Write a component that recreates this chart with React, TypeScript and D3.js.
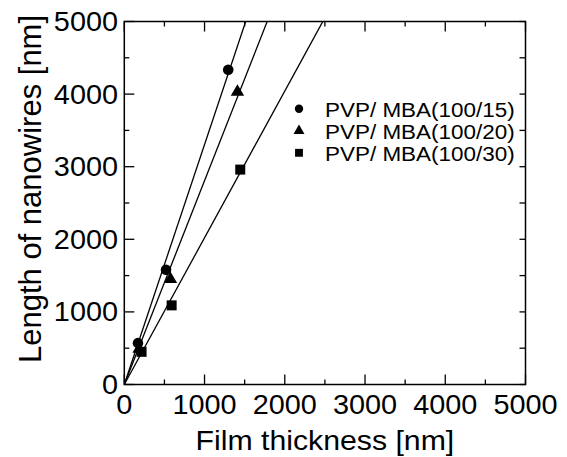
import React from "react";
import * as d3 from "d3";

const seriesNames = ["PVP/ MBA(100/15)", "PVP/ MBA(100/20)", "PVP/ MBA(100/30)"];
const seriesSymbols = ["circle", "triangle", "square"];
const thicknessS15 = [170, 520, 1295];
const lengthS15 = [570, 1580, 4335];
const thicknessS20 = [185, 575, 1410];
const lengthS20 = [490, 1450, 4030];
const thicknessS30 = [215, 590, 1445];
const lengthS30 = [450, 1090, 2960];
const majorTicks = [0, 1000, 2000, 3000, 4000, 5000];
const minorTicks = [500, 1500, 2500, 3500, 4500];

const W = 567, H = 457;
const L = 124.3, R = 525.5, T = 21.5, B = 384.5;
const FONT = "'Liberation Sans', Arial, sans-serif";

export default function App() {
  const x = d3.scaleLinear().domain([0, 5000]).range([L, R]);
  const y = d3.scaleLinear().domain([0, 5000]).range([B, T]);
  const series = [
    { xs: thicknessS15, ys: lengthS15 },
    { xs: thicknessS20, ys: lengthS20 },
    { xs: thicknessS30, ys: lengthS30 },
  ];
  const symType: Record<string, d3.SymbolType> = {
    circle: d3.symbolCircle,
    triangle: d3.symbolTriangle,
    square: d3.symbolSquare,
  };
  const symSize: Record<string, number> = { circle: 88, triangle: 78, square: 100 };
  const legSize: Record<string, number> = { circle: 55, triangle: 52, square: 62 };
  const line = d3.line<[number, number]>().x((d) => x(d[0])).y((d) => y(d[1]));

  return (
    <svg width={W} height={H} style={{ position: "absolute", left: 0, top: 0, background: "#fff" }}>
      <defs>
        <clipPath id="plot">
          <rect x={L} y={T} width={R - L} height={B - T} />
        </clipPath>
      </defs>
      <rect x={0} y={0} width={W} height={H} fill="#fff" />
      <g clipPath="url(#plot)">
        {series.map((s, i) => {
          const sxy = d3.sum(s.xs, (v, k) => v * s.ys[k]);
          const sxx = d3.sum(s.xs, (v) => v * v);
          const k = sxy / sxx;
          return (
            <path key={i} d={line([[0, 0], [5000, 5000 * k]]) || ""} stroke="#000" strokeWidth={1.3} fill="none" />
          );
        })}
      </g>
      {series.map((s, i) =>
        s.xs.map((v, j) => (
          <path
            key={`${i}-${j}`}
            transform={`translate(${x(v)},${y(s.ys[j])})`}
            d={d3.symbol(symType[seriesSymbols[i]], symSize[seriesSymbols[i]])() || ""}
            fill="#000"
          />
        ))
      )}
      <rect x={L} y={T} width={R - L} height={B - T} fill="none" stroke="#000" strokeWidth={1.5} />
      {majorTicks.map((t) => (
        <g key={`M${t}`} stroke="#000" strokeWidth={1.3}>
          <line x1={x(t)} x2={x(t)} y1={B} y2={B - 10} />
          <line x1={x(t)} x2={x(t)} y1={T} y2={T + 10} />
          <line x1={L} x2={L + 10} y1={y(t)} y2={y(t)} />
          <line x1={R} x2={R - 6} y1={y(t)} y2={y(t)} />
        </g>
      ))}
      {minorTicks.map((t) => (
        <g key={`m${t}`} stroke="#000" strokeWidth={1.3}>
          <line x1={x(t)} x2={x(t)} y1={B} y2={B - 5} />
          <line x1={x(t)} x2={x(t)} y1={T} y2={T + 5} />
          <line x1={L} x2={L + 5} y1={y(t)} y2={y(t)} />
          <line x1={R} x2={R - 6} y1={y(t)} y2={y(t)} />
        </g>
      ))}
      {majorTicks.map((t) => (
        <text
          key={`xl${t}`}
          transform={`translate(${x(t)},${414}) scale(1.03,1)`}
          textAnchor="middle"
          fontFamily={FONT}
          fontSize={28}
          fill="#000"
        >
          {t}
        </text>
      ))}
      {majorTicks.map((t) => (
        <text
          key={`yl${t}`}
          transform={`translate(${118},${y(t) + 9.5}) scale(1.03,1)`}
          textAnchor="end"
          fontFamily={FONT}
          fontSize={28}
          fill="#000"
        >
          {t}
        </text>
      ))}
      <text
        transform={`translate(${(L + R) / 2},${449.5}) scale(1.1,1)`}
        textAnchor="middle"
        fontFamily={FONT}
        fontSize={27.5}
        fill="#000"
      >
        Film thickness [nm]
      </text>
      <text
        transform={`translate(${41},${189}) rotate(-90)`}
        textAnchor="middle"
        fontFamily={FONT}
        fontSize={31}
        fill="#000"
      >
        Length of nanowires [nm]
      </text>
      {seriesNames.map((n, i) => {
        const ly = 108.8 + i * 22;
        return (
          <g key={n}>
            <path
              transform={`translate(299,${ly})`}
              d={d3.symbol(symType[seriesSymbols[i]], legSize[seriesSymbols[i]])() || ""}
              fill="#000"
            />
            <text
              transform={`translate(325,${ly + 8.3}) scale(1.07,1)`}
              fontFamily={FONT}
              fontSize={21}
              fill="#000"
            >
              {n}
            </text>
          </g>
        );
      })}
    </svg>
  );
}
